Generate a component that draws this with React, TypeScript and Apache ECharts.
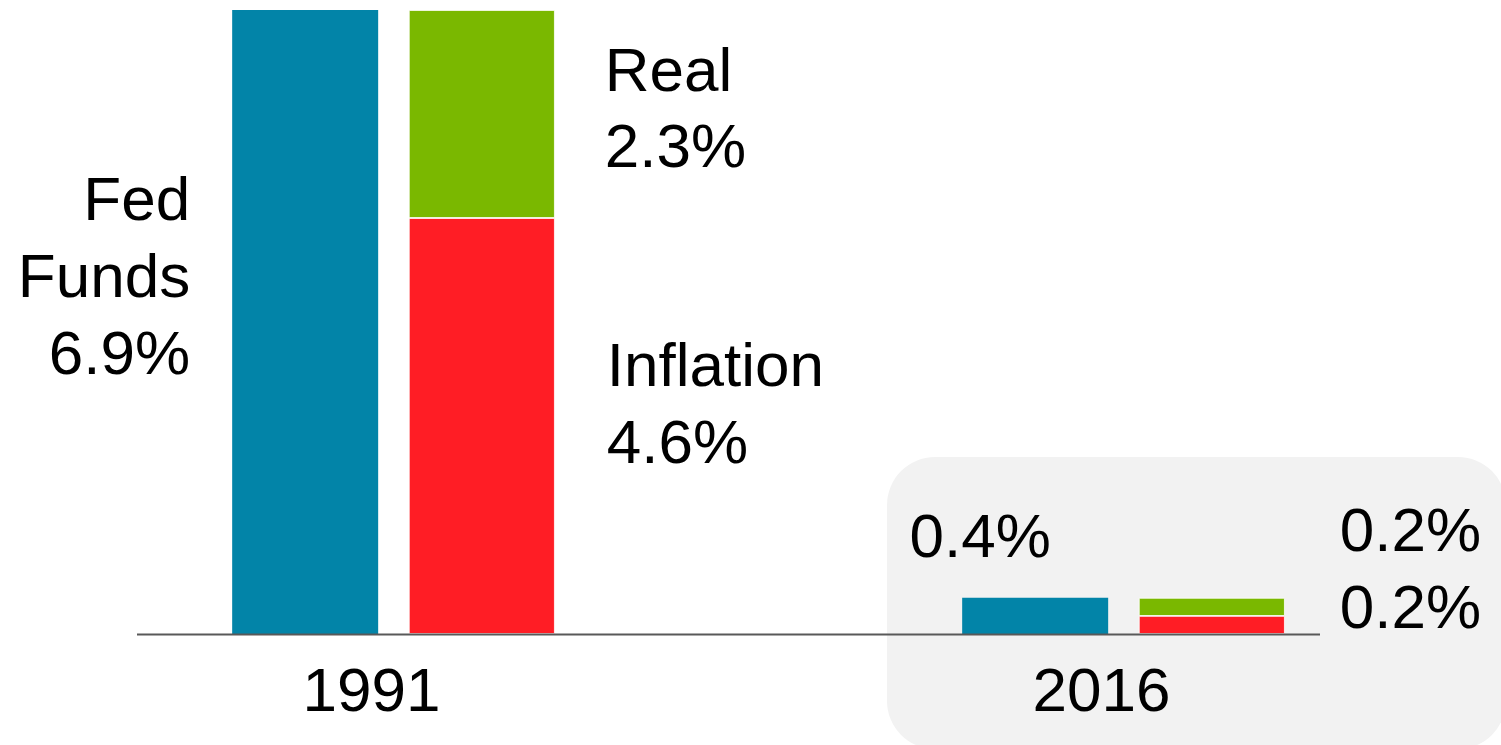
import React, { useEffect, useRef } from "react";
import * as echarts from "echarts";

const categories = ["1991", "2016"];
const fedFunds = [6.9, 0.4];
const inflation = [4.6, 0.2];
const real = [2.3, 0.2];
const fedLabels = ["Fed\nFunds\n6.9%", "0.4%"];
const inflationLabels = ["Inflation\n4.6%", "0.2%"];
const realLabels = ["Real\n2.3%", "0.2%"];

const FONT = "'Liberation Sans', Arial, sans-serif";
const BLUE = "#0284A8";
const RED = "#FF1D25";
const GREEN = "#7AB800";

export default function App() {
  const ref = useRef<HTMLDivElement>(null);
  useEffect(() => {
    document.body.style.margin = "0";
    const chart = echarts.init(ref.current!, null, { renderer: "svg" });
    const baseLabel = {
      show: true,
      color: "#000",
      fontFamily: FONT,
      fontSize: 62,
    };
    chart.setOption({
      animation: false,
      backgroundColor: "#fff",
      grid: { left: 28.5, right: 12.5, top: 10, bottom: 111, containLabel: false },
      xAxis: {
        type: "category",
        data: categories,
        axisLine: { show: false },
        axisTick: { show: false },
        axisLabel: {
          color: "#000",
          fontFamily: FONT,
          fontSize: 62,
          lineHeight: 62,
          margin: 24,
          padding: [0, 44, 0, 0],
        },
      },
      yAxis: { type: "value", min: 0, max: 6.9, show: false, splitLine: { show: false } },
      graphic: [
        {
          type: "rect",
          z: -10,
          shape: { x: 887, y: 457, width: 619, height: 292, r: 48 },
          style: { fill: "#F2F2F2" },
        },
        {
          type: "line",
          z: 100,
          shape: { x1: 137, y1: 634.5, x2: 1320, y2: 634.5 },
          style: { stroke: "#595959", lineWidth: 2 },
        },
      ],
      series: [
        {
          name: "Fed Funds",
          type: "bar",
          barWidth: 146,
          barGap: "21%",
          itemStyle: { color: BLUE },
          data: fedFunds.map((v, i) => ({
            value: v,
            label:
              i === 0
                ? { ...baseLabel, formatter: fedLabels[i], position: "left", distance: 42, align: "right", lineHeight: 77, offset: [0, -47] }
                : { ...baseLabel, formatter: fedLabels[i], position: "top", distance: 0, lineHeight: 62, offset: [-55, -31] },
          })),
        },
        {
          name: "Inflation",
          type: "bar",
          stack: "rate",
          barWidth: 146,
          itemStyle: { color: RED, borderColor: "#fff", borderWidth: 0.8 },
          data: inflation.map((v, i) => ({
            value: v,
            label:
              i === 0
                ? { ...baseLabel, formatter: inflationLabels[i], position: "right", distance: 52, align: "left", lineHeight: 77, offset: [0, -23] }
                : { ...baseLabel, formatter: inflationLabels[i], position: "right", distance: 55, align: "left", lineHeight: 62, offset: [0, -18] },
          })),
        },
        {
          name: "Real",
          type: "bar",
          stack: "rate",
          barWidth: 146,
          itemStyle: { color: GREEN, borderColor: "#fff", borderWidth: 0.8 },
          data: real.map((v, i) => ({
            value: v,
            label:
              i === 0
                ? { ...baseLabel, formatter: realLabels[i], position: "right", distance: 50, align: "left", lineHeight: 76, offset: [0, -7] }
                : { ...baseLabel, formatter: realLabels[i], position: "right", distance: 55, align: "left", lineHeight: 62, offset: [0, -77] },
          })),
        },
      ],
    });
    return () => chart.dispose();
  }, []);
  return <div ref={ref} style={{ width: 1501, height: 745 }} />;
}
